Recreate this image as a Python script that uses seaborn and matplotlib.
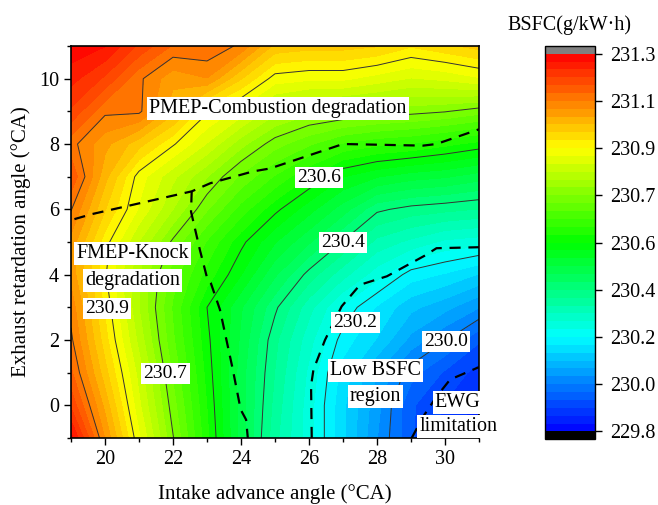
import numpy as np
import matplotlib
matplotlib.use('Agg')
import matplotlib.pyplot as plt
from matplotlib.colors import LinearSegmentedColormap
import seaborn as sns

# grid
intake_angle = [19, 20, 21, 22, 23, 24, 25, 26, 27, 28, 29, 30, 31]
exhaust_angle = [-1, 0, 1, 2, 3, 4, 5, 6, 7, 8, 9, 10, 11]

# BSFC (g/kW.h), one row per exhaust angle, from -1 up to 11
bsfc = [
    [231.28, 231.08, 230.90, 230.74, 230.59, 230.44, 230.31, 230.22, 230.12, 230.02, 229.93, 229.88, 229.84],
    [231.20, 231.04, 230.87, 230.72, 230.58, 230.44, 230.32, 230.22, 230.12, 230.03, 229.93, 229.89, 229.85],
    [231.15, 231.00, 230.85, 230.70, 230.57, 230.44, 230.33, 230.23, 230.13, 230.05, 229.97, 229.92, 229.88],
    [231.12, 230.97, 230.82, 230.68, 230.56, 230.45, 230.34, 230.25, 230.16, 230.11, 230.04, 229.99, 229.93],
    [231.10, 230.95, 230.80, 230.67, 230.55, 230.46, 230.37, 230.28, 230.20, 230.14, 230.09, 230.06, 230.02],
    [231.07, 230.93, 230.80, 230.69, 230.60, 230.52, 230.43, 230.35, 230.28, 230.22, 230.16, 230.14, 230.11],
    [231.07, 230.94, 230.83, 230.73, 230.64, 230.56, 230.49, 230.43, 230.36, 230.29, 230.26, 230.23, 230.22],
    [231.115, 230.99, 230.89, 230.80, 230.71, 230.63, 230.56, 230.50, 230.44, 230.37, 230.35, 230.34, 230.33],
    [231.17, 231.03, 230.91, 230.84, 230.77, 230.70, 230.64, 230.58, 230.52, 230.49, 230.47, 230.46, 230.44],
    [231.125, 231.06, 231.00, 230.93, 230.86, 230.78, 230.72, 230.68, 230.64, 230.62, 230.61, 230.59, 230.57],
    [231.20, 231.12, 231.12, 231.03, 230.93, 230.88, 230.81, 230.78, 230.77, 230.76, 230.75, 230.74, 230.72],
    [231.25, 231.20, 231.12, 231.06, 231.08, 230.99, 230.91, 230.90, 230.90, 230.88, 230.86, 230.87, 230.89],
    [231.29, 231.27, 231.20, 231.14, 231.14, 231.105, 231.01, 231.00, 231.00, 230.99, 230.96, 230.98, 231.00],
]

# region boundaries (dashed)
pmep_x = [19.1, 19.6, 22.55, 23.1, 24.35, 24.85, 27.0, 29.35, 29.75, 31.0]
pmep_y = [5.7, 5.85, 6.55, 6.8, 7.16, 7.25, 8.0, 7.95, 8.0, 8.45]
knock_x = [22.55, 22.53, 22.79, 22.99, 23.11, 23.38, 23.76, 23.99, 24.15, 24.2]
knock_y = [6.55, 5.93, 4.76, 3.95, 3.75, 2.93, 1.09, -0.13, -0.44, -1.0]
low_x = [26.08, 26.06, 26.13, 26.47, 26.96, 27.5, 28.29, 29.4, 29.75, 31.0]
low_y = [-1.0, 0.6, 1.09, 2.0, 3.03, 3.69, 3.95, 4.58, 4.81, 4.84]
ewg_x = [29.02, 29.36, 29.76, 30.15, 31.0]
ewg_y = [-1.0, -0.34, 0.28, 0.79, 1.17]

# contour labels
lbl_text = ['230.9', '230.7', '230.6', '230.4', '230.2', '230.0']
lbl_x = [20.06, 21.78, 26.30, 27.01, 27.37, 30.04]
lbl_y = [2.97, 0.97, 6.98, 4.99, 2.54, 1.96]

# region notes
note_text = ['PMEP-Combustion degradation', 'FMEP-Knock', 'degradation',
             'Low BSFC', 'region', 'EWG', 'limitation']
note_x = [25.09, 20.81, 20.81, 27.95, 27.95, 30.37, 30.39]
note_y = [9.08, 4.64, 3.82, 1.07, 0.28, 0.10, -0.64]

sns.set_style('ticks')
plt.rcParams['font.family'] = ['Liberation Serif', 'DejaVu Serif']
plt.rcParams['text.color'] = 'black'
plt.rcParams['axes.labelcolor'] = 'black'
plt.rcParams['xtick.color'] = 'black'
plt.rcParams['ytick.color'] = 'black'

X, Y = np.meshgrid(intake_angle, exhaust_angle)
Z = np.array(bsfc)

zmin, zmax = 229.8, 231.3
major = np.linspace(zmin, zmax, 9)
fill_levels = np.linspace(zmin, zmax, 49)

cmap = LinearSegmentedColormap.from_list(
    'rainbow_origin',
    [(0.0, (0, 0, 1)), (0.25, (0, 1, 1)), (0.5, (0, 1, 0)),
     (0.75, (1, 1, 0)), (1.0, (1, 0, 0))])
cmap.set_over('#808080')
cmap.set_under('black')

fig = plt.figure(figsize=(6.58, 5.05), dpi=100)
ax = fig.add_axes([0.1079, 0.1327, 0.6201, 0.7762])
cax = fig.add_axes([0.828, 0.1307, 0.076, 0.778])

cf = ax.contourf(X, Y, Z, levels=fill_levels, cmap=cmap, extend='both')
ax.contour(X, Y, Z, levels=major[1:-1], colors='#333333', linewidths=0.7)

dash = dict(color='black', lw=1.6, ls=(0, (5, 3.5)))
ax.plot(pmep_x, pmep_y, **dash)
ax.plot(knock_x, knock_y, **dash)
ax.plot(low_x, low_y, **dash)
ax.plot(ewg_x, ewg_y, **dash)

box = dict(facecolor='white', edgecolor='none', pad=1.5)
for t, x, y in zip(lbl_text, lbl_x, lbl_y):
    ax.text(x, y, t, ha='center', va='center', fontsize=14, bbox=box, zorder=5)
for t, x, y in zip(note_text, note_x, note_y):
    ax.text(x, y, t, ha='center', va='center', fontsize=14.5, bbox=box,
            zorder=5, clip_on=False)

ax.set_xlim(19, 31)
ax.set_ylim(-1, 11)
ax.set_xticks([20, 22, 24, 26, 28, 30])
ax.set_xticks([19, 21, 23, 25, 27, 29, 31], minor=True)
ax.set_yticks([0, 2, 4, 6, 8, 10])
ax.set_yticks([-1, 1, 3, 5, 7, 9, 11], minor=True)
ax.tick_params(which='major', direction='out', length=5, width=1,
               labelsize=14.5, color='black')
ax.tick_params(which='minor', direction='out', length=3, width=1, color='black')
for s in ax.spines.values():
    s.set_linewidth(1.2)
    s.set_color('black')
ax.set_xlabel('Intake advance angle (°CA)', fontsize=15, labelpad=11)
ax.set_ylabel('Exhaust retardation angle (°CA)', fontsize=15, labelpad=6)

cb = fig.colorbar(cf, cax=cax, extendrect=True, extendfrac=0.02)
cb.set_ticks(major)
cb.set_ticklabels(['%.1f' % v for v in major])
cb.ax.tick_params(labelsize=14.5, length=5, width=1, pad=6)
cb.outline.set_linewidth(1)
cb.outline.set_edgecolor('black')
fig.text(0.866, 0.95, 'BSFC(g/kW·h)', ha='center', va='center', fontsize=14.5)

fig.savefig('out.png', dpi=100)
